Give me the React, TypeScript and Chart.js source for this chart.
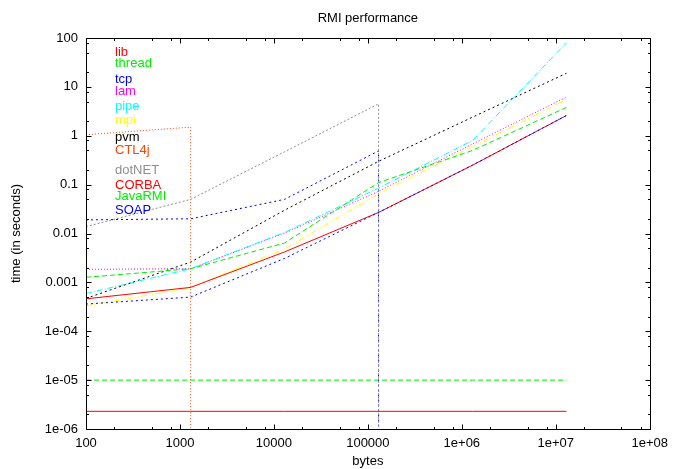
import { useEffect, useRef } from 'react';
import { Chart, registerables } from 'chart.js';

Chart.register(...registerables);

// ---------- data ----------
const seriesNames = ['lib', 'thread', 'tcp', 'lam', 'pipe', 'mpi', 'pvm', 'CTL4j', 'dotNET', 'CORBA', 'JavaRMI', 'SOAP'];

const sizes = [100, 1300, 13000, 130000, 1300000, 13000000];

const libTimes = [2.3e-6, 2.3e-6, 2.3e-6, 2.3e-6, 2.3e-6, 2.3e-6];
const threadTimes = [1e-5, 1e-5, 1e-5, 1e-5, 1e-5, 1e-5];
const tcpSizes = [100, 1300, 13000, 130000, 130000];
const tcpTimes = [0.019, 0.02, 0.05, 0.49, 1e-8];
const lamTimes = [0.00185, 0.0019, 0.0102, 0.073, 0.68, 6.2];
const pipeTimes = [0.00059, 0.0019, 0.0105, 0.085, 0.8, 80];
const mpiTimes = [0.00033, 0.00078, 0.0048, 0.065, 0.6, 5.5];
const pvmTimes = [0.00047, 0.0026, 0.03, 0.3, 2.4, 19];
const ctl4jSizes = [100, 1300, 1300];
const ctl4jTimes = [1.05, 1.5, 1e-8];
const dotnetSizes = [100, 1300, 13000, 130000, 130000];
const dotnetTimes = [0.0138, 0.05, 0.47, 4.5, 1e-8];
const corbaTimes = [0.00046, 0.00079, 0.0042, 0.027, 0.25, 2.6];
const javarmiTimes = [0.00127, 0.0019, 0.0064, 0.11, 0.5, 3.8];
const soapTimes = [0.00036, 0.0005, 0.0031, 0.027, 0.25, 2.6];

const xTickLabels = ['100', '1000', '10000', '100000', '1e+06', '1e+07', '1e+08'];
const yTickLabels = ['1e-06', '1e-05', '1e-04', '0.001', '0.01', '0.1', '1', '10', '100'];

// ---------- styles ----------
const FONT = 'Liberation Sans, Arial, Helvetica, sans-serif';
const colors = ['#ff0000', '#00ee00', '#0000ff', '#ff00ff', '#00ffff', '#ffff00', '#000000', '#ff4500', '#909090', '#ff0000', '#00ee00', '#0000ff'];
const dashes: number[][] = [[], [5, 3], [2, 3], [1, 2], [6, 2, 1, 2], [6, 2, 1, 2, 1, 2], [2, 3], [1, 2], [2, 2], [], [5, 3], [2, 3]];
const legendYOffsets = [14.7, 25.3, 41, 53.7, 68.7, 82.7, 99.3, 112.7, 132, 147, 158, 172];

const seriesX = [sizes, sizes, tcpSizes, sizes, sizes, sizes, sizes, ctl4jSizes, dotnetSizes, sizes, sizes, sizes];
const seriesY = [libTimes, threadTimes, tcpTimes, lamTimes, pipeTimes, mpiTimes, pvmTimes, ctl4jTimes, dotnetTimes, corbaTimes, javarmiTimes, soapTimes];

function logTicks(minExp: number, maxExp: number) {
  const out: { value: number; major: boolean }[] = [];
  for (let e = minExp; e <= maxExp; e++) {
    out.push({ value: Math.pow(10, e), major: true });
    if (e < maxExp) {
      for (const m of [2, 5, 8]) out.push({ value: m * Math.pow(10, e), major: false });
    }
  }
  return out;
}

function decadeLabel(value: number, minExp: number, labels: string[]) {
  const l = Math.log10(value);
  const r = Math.round(l);
  if (Math.abs(l - r) > 1e-6) return '';
  return labels[r - minExp] ?? '';
}

const framePlugin = {
  id: 'gnuFrame',
  afterDatasetsDraw(chart: any) {
    const { ctx, chartArea, scales } = chart;
    const { left, right, top, bottom } = chartArea;
    const L = Math.round(left) + 0.5;
    const R = Math.round(right) + 0.5;
    const T = Math.round(top) + 0.5;
    const B = Math.round(bottom) + 0.5;
    ctx.save();
    ctx.strokeStyle = '#000';
    ctx.lineWidth = 1;
    ctx.setLineDash([]);
    ctx.beginPath();
    for (const t of scales.x.ticks) {
      const px = Math.round(scales.x.getPixelForValue(t.value)) + 0.5;
      const len = t.major ? 5 : 2.5;
      ctx.moveTo(px, B);
      ctx.lineTo(px, B - len);
      ctx.moveTo(px, T);
      ctx.lineTo(px, T + len);
    }
    for (const t of scales.y.ticks) {
      const py = Math.round(scales.y.getPixelForValue(t.value)) + 0.5;
      const len = t.major ? 5 : 2.5;
      ctx.moveTo(L, py);
      ctx.lineTo(L + len, py);
      ctx.moveTo(R, py);
      ctx.lineTo(R - len, py);
    }
    ctx.stroke();
    ctx.strokeRect(L, T, R - L, B - T);
    // legend (text only, as in the reference)
    ctx.font = `13px ${FONT}`;
    ctx.textAlign = 'left';
    ctx.textBaseline = 'middle';
    chart.data.datasets.forEach((ds: any, i: number) => {
      ctx.fillStyle = ds.borderColor;
      ctx.fillText(ds.label, left + 29, top + legendYOffsets[i]);
    });
    ctx.restore();
  },
};

export default function App() {
  const ref = useRef<HTMLCanvasElement | null>(null);
  useEffect(() => {
    if (!ref.current) return;
    const datasets = seriesNames.map((name, i) => ({
      label: name,
      data: seriesX[i].map((x, j) => ({ x, y: seriesY[i][j] })),
      borderColor: colors[i],
      backgroundColor: colors[i],
      borderWidth: 1,
      borderDash: dashes[i],
      pointRadius: 0,
      tension: 0,
      fill: false,
      order: seriesNames.length - i,
    }));
    const chart = new Chart(ref.current, {
      type: 'line',
      data: { datasets },
      plugins: [framePlugin],
      options: {
        animation: false,
        responsive: true,
        maintainAspectRatio: false,
        parsing: true,
        layout: { padding: { left: 0, right: 21, top: 0, bottom: 0 } },
        plugins: {
          legend: { display: false },
          tooltip: { enabled: false },
          title: {
            display: true,
            text: 'RMI performance',
            color: '#000',
            fullSize: false,
            font: { family: FONT, size: 13, weight: 'normal', lineHeight: 1.2 },
            padding: { top: 10.7, bottom: 11.7 },
          },
        },
        scales: {
          x: {
            type: 'logarithmic',
            min: 100,
            max: 1e8,
            grid: { display: false, drawTicks: false },
            border: { display: false },
            afterBuildTicks: (s: any) => {
              s.ticks = logTicks(2, 8);
            },
            afterFit: (s: any) => {
              s.height = 40;
            },
            ticks: {
              autoSkip: false,
              maxRotation: 0,
              minRotation: 0,
              padding: 7,
              color: '#000',
              font: { family: FONT, size: 13 },
              callback: (v: any) => decadeLabel(Number(v), 2, xTickLabels),
            },
            title: {
              display: true,
              text: 'bytes',
              color: '#000',
              font: { family: FONT, size: 13 },
              padding: { top: 0, bottom: 0 },
            },
          },
          y: {
            type: 'logarithmic',
            min: 1e-6,
            max: 100,
            grid: { display: false, drawTicks: false },
            border: { display: false },
            afterBuildTicks: (s: any) => {
              s.ticks = logTicks(-6, 2);
            },
            afterFit: (s: any) => {
              s.width = 86;
            },
            ticks: {
              autoSkip: false,
              padding: 8,
              color: '#000',
              font: { family: FONT, size: 13 },
              callback: (v: any) => decadeLabel(Number(v), -6, yTickLabels),
            },
            title: {
              display: true,
              text: 'time (in seconds)',
              color: '#000',
              font: { family: FONT, size: 13 },
              padding: { top: 9, bottom: 0 },
            },
          },
        },
      } as any,
    });
    return () => chart.destroy();
  }, []);
  return (
    <div style={{ position: 'fixed', left: 0, top: 0, width: 675, height: 469, background: '#fff' }}>
      <canvas ref={ref} />
    </div>
  );
}
